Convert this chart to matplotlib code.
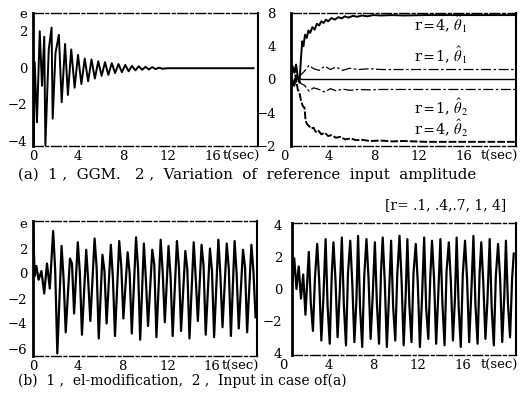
import matplotlib
matplotlib.use('Agg')
import matplotlib.pyplot as plt
from matplotlib.transforms import ScaledTranslation

plt.rcParams['font.family'] = ['DejaVu Serif']
plt.rcParams['mathtext.fontset'] = 'stix'

# (a)-1  GGM error
ggm_t = [0.0, 0.05, 0.15, 0.35, 0.6, 0.8, 1.0, 1.1, 1.4, 1.65,
         1.75, 2.0, 2.3, 2.55, 2.85, 3.1, 3.4, 3.7, 4.0, 4.3,
         4.6, 4.9, 5.2, 5.5, 5.8, 6.1, 6.4, 6.7, 7.0, 7.3,
         7.6, 7.9, 8.2, 8.5, 8.8, 9.1, 9.4, 9.7, 10.0, 10.3,
         10.6, 10.9, 11.2, 11.5, 12.0, 19.6]
ggm_e = [3.2, -4.1, 0.3, -3.0, 2.0, -1.0, 1.7, -4.3, 1.0, 2.2,
         -2.8, 0.8, 1.8, -1.9, 1.3, -1.5, 1.0, -1.1, 0.7, -0.9,
         0.5, -0.75, 0.45, -0.6, 0.35, -0.45, 0.3, -0.4, 0.25, -0.3,
         0.2, -0.25, 0.15, -0.2, 0.1, -0.15, 0.08, -0.12, 0.05, -0.1,
         0.03, -0.08, 0.0, -0.06, -0.03, -0.03]

# (a)-2  parameter estimates
r4_th1_t = [0.0, 0.15, 0.3, 0.45, 0.6, 0.75, 0.9, 1.0, 1.1, 1.25,
            1.4, 1.55, 1.7, 1.9, 2.1, 2.3, 2.5, 2.7, 2.9, 3.1,
            3.3, 3.6, 3.9, 4.2, 4.5, 4.8, 5.1, 5.5, 5.9, 6.3,
            6.8, 7.3, 8.0, 9.0, 10.0, 12.0, 14.0, 16.0, 18.0, 20.0]
r4_th1 = [1.0, 1.6, 0.8, 1.8, 0.3, -0.4, 2.8, 4.6, 4.0, 5.4,
          5.0, 5.9, 5.6, 6.3, 6.0, 6.7, 6.5, 7.0, 6.8, 7.2,
          7.0, 7.4, 7.2, 7.5, 7.35, 7.6, 7.45, 7.65, 7.55, 7.7,
          7.6, 7.75, 7.7, 7.75, 7.7, 7.75, 7.75, 7.75, 7.75, 7.75]
r1_t = [0.0, 0.3, 0.6, 0.9, 1.2, 1.6, 2.0, 2.5, 3.0, 3.5,
        4.0, 4.6, 5.2, 6.0, 7.0, 8.0, 10.0, 13.0, 16.0, 20.0]
r1_th1 = [0.5, 1.2, 0.2, 0.6, 1.0, 1.7, 1.3, 1.1, 1.6, 1.2,
          1.5, 1.1, 1.35, 1.2, 1.3, 1.2, 1.2, 1.2, 1.2, 1.2]
r1_th2 = [-0.3, -0.8, 0.2, -0.5, -0.7, -1.4, -1.0, -1.2, -1.5, -1.1,
          -1.35, -1.15, -1.3, -1.2, -1.25, -1.2, -1.2, -1.2, -1.2, -1.2]
small_t = [0.0, 0.3, 0.6, 1.0, 20.0]
small_th = [0.0, -0.3, 0.2, 0.0, 0.0]
r4_th2_t = [0.0, 0.2, 0.4, 0.6, 0.75, 0.9, 1.05, 1.2, 1.3, 1.45,
            1.6, 1.8, 2.0, 2.2, 2.4, 2.7, 3.0, 3.3, 3.6, 4.0,
            4.4, 4.8, 5.3, 5.8, 6.3, 7.0, 8.0, 9.0, 10.0, 12.0,
            14.0, 16.0, 18.0, 20.0]
r4_th2 = [0.3, -0.8, 0.5, -1.2, -1.6, -2.6, -3.2, -3.4, -5.0, -5.4,
          -5.6, -5.9, -5.8, -6.3, -6.1, -6.6, -6.4, -6.8, -6.7, -7.0,
          -6.9, -7.2, -7.1, -7.3, -7.25, -7.4, -7.35, -7.45, -7.4, -7.5,
          -7.5, -7.5, -7.5, -7.5]

# (b)-1  el-modification error
el_t = [0.0, 0.15, 0.3, 0.5, 0.75, 1.0, 1.25, 1.5,
        1.8, 1.98, 2.17, 2.55, 2.73, 2.92, 3.3, 3.48, 3.67,
        4.0, 4.18, 4.37, 4.75, 4.93, 5.12, 5.5, 5.68, 5.87,
        6.2, 6.38, 6.57, 6.95, 7.13, 7.32, 7.7, 7.88, 8.07,
        8.45, 8.63, 8.82, 9.2, 9.38, 9.57, 9.9, 10.08, 10.27,
        10.65, 10.83, 11.02, 11.4, 11.58, 11.77, 12.1, 12.28, 12.47,
        12.85, 13.03, 13.22, 13.6, 13.78, 13.97, 14.35, 14.53, 14.72,
        15.05, 15.23, 15.42, 15.8, 15.98, 16.17, 16.55, 16.73, 16.92,
        17.3, 17.48, 17.67, 18.0, 18.18, 18.37, 18.75, 18.93, 19.12,
        19.5, 19.68, 19.87]
el_e = [4.0, -0.2, 0.6, -0.5, 0.2, -1.6, 0.8, -1.2,
        3.4, 0.3, -6.4, 2.2, -0.4, -4.7, 1.2, 0.8, -3.2,
        2.5, 0.1, -4.9, 1.9, -0.6, -3.8, 2.8, 0.5, -5.2,
        1.5, 0.2, -4.0, 2.3, -0.3, -5.0, 2.6, 0.6, -3.6,
        1.7, 0.0, -4.8, 2.9, 0.4, -5.3, 2.4, -0.5, -4.2,
        1.9, 0.7, -5.1, 2.7, 0.1, -3.9, 2.2, -0.2, -5.0,
        2.6, 0.5, -4.6, 1.8, 0.3, -5.2, 2.5, -0.4, -3.8,
        2.3, 0.6, -4.9, 2.0, 0.2, -5.1, 2.7, -0.1, -4.3,
        2.4, 0.4, -5.0, 2.6, 0.0, -4.4, 1.9, 0.5, -4.7,
        2.3, 0.2, -3.5]

# (b)-2  input in case of (a)
u_t = [0.0, 0.2, 0.4, 0.6, 0.8, 1.0, 1.2,
       1.5, 1.68, 1.87, 2.05, 2.25, 2.43, 2.62, 2.8,
       3.0, 3.18, 3.37, 3.55, 3.7, 3.88, 4.07, 4.25,
       4.45, 4.63, 4.82, 5.0, 5.2, 5.38, 5.57, 5.75,
       5.9, 6.08, 6.27, 6.45, 6.65, 6.83, 7.02, 7.2,
       7.4, 7.58, 7.77, 7.95, 8.1, 8.28, 8.47, 8.65,
       8.85, 9.03, 9.22, 9.4, 9.6, 9.78, 9.97, 10.15,
       10.3, 10.48, 10.67, 10.85, 11.05, 11.23, 11.42, 11.6,
       11.8, 11.98, 12.17, 12.35, 12.5, 12.68, 12.87, 13.05,
       13.25, 13.43, 13.62, 13.8, 14.0, 14.18, 14.37, 14.55,
       14.7, 14.88, 15.07, 15.25, 15.45, 15.63, 15.82, 16.0,
       16.2, 16.38, 16.57, 16.75, 16.9, 17.08, 17.27, 17.45,
       17.65, 17.83, 18.02, 18.2, 18.4, 18.58, 18.77, 18.95,
       19.1, 19.28, 19.47, 19.65, 19.8]
u_v = [0.0, 1.9, 0.0, 1.4, -0.6, 0.9, -1.6,
       2.3, -0.9, -2.6, 0.7, 2.8, 0.5, -3.2, -0.6,
       3.1, -1.1, -3.4, 0.9, 2.9, 0.6, -3.0, -0.4,
       3.2, -1.0, -3.5, 1.0, 3.0, 0.4, -3.3, -0.7,
       3.3, -1.2, -3.6, 0.8, 3.1, 0.7, -3.1, -0.5,
       2.9, -0.9, -3.4, 1.1, 3.2, 0.5, -3.6, -0.6,
       3.0, -1.1, -3.2, 0.9, 3.3, 0.6, -3.5, -0.4,
       3.1, -1.0, -3.3, 1.0, 2.8, 0.4, -3.6, -0.7,
       3.2, -1.2, -3.1, 0.8, 3.0, 0.7, -3.4, -0.5,
       3.1, -0.9, -3.5, 1.1, 2.9, 0.5, -3.2, -0.6,
       3.2, -1.1, -3.6, 0.9, 3.0, 0.6, -3.3, -0.4,
       3.3, -1.0, -3.4, 1.0, 2.9, 0.4, -3.1, -0.7,
       3.1, -1.2, -3.5, 0.8, 2.8, 0.7, -3.3, -0.5,
       3.0, -0.9, -3.0, 0.6, 2.2]

x_ticks = [0, 4, 8, 12, 16, 18.5]
x_labels = ['0', '4', '8', '12', '16', 't(sec)']

fig = plt.figure(figsize=(5.31, 4.04), dpi=100)
W, H = 531, 404


def panel(left, top, right, bottom):
    return fig.add_axes([left / W, 1 - bottom / H, (right - left) / W, (bottom - top) / H])


def style(ax, yticks, ylabels, ylim, ypad, xshift=0):
    ax.set_xlim(0, 20)
    ax.set_ylim(*ylim)
    ax.set_xticks(x_ticks)
    ax.set_xticklabels(x_labels)
    ax.set_yticks(yticks)
    ax.set_yticklabels(ylabels)
    ax.tick_params(length=0, labelsize=9.5)
    ax.tick_params(axis='x', pad=3)
    ax.tick_params(axis='y', pad=ypad)
    ax.spines['left'].set_linewidth(2.0)
    ax.spines['right'].set_linewidth(1.5)
    for s in ('top', 'bottom'):
        ax.spines[s].set_linewidth(1.0)
        ax.spines[s].set_linestyle((0, (7, 2, 2, 2)))
    if xshift:
        off = ScaledTranslation(xshift / 72, 0, fig.dpi_scale_trans)
        for lab in ax.get_xticklabels()[:-1]:
            lab.set_transform(lab.get_transform() + off)


ax1 = panel(33, 13, 258, 146)
ax1.plot(ggm_t, ggm_e, color='black', lw=1.4)
style(ax1, [-4, -2, 0, 2, 3.0], ['−4', '−2', '0', '2', 'e'], (-4.3, 3.0), 4)

ax2 = panel(291, 13, 516, 146)
ax2.plot(r4_th1_t, r4_th1, color='black', lw=1.4)
ax2.plot(r1_t, r1_th1, color='black', lw=0.9, ls=(0, (8, 2, 2, 2)))
ax2.plot(small_t, small_th, color='black', lw=1.0)
ax2.plot(r1_t, r1_th2, color='black', lw=0.9, ls=(0, (8, 2, 2, 2)))
ax2.plot(r4_th2_t, r4_th2, color='black', lw=1.4, ls=(0, (4, 1)))
style(ax2, [-8, -4, 0, 4, 8], ['−2', '−4', '0', '4', '8'], (-8, 8), 11, xshift=-5)
lab_kw = dict(fontsize=10.5, ha='left', va='center')
ax2.text(10.9, 6.6, r'r$=$4, $\hat{\theta}_1$', **lab_kw)
ax2.text(10.9, 2.9, r'r$=$1, $\hat{\theta}_1$', **lab_kw)
ax2.text(10.9, -3.4, r'r$=$1, $\hat{\theta}_2$', **lab_kw)
ax2.text(10.9, -5.9, r'r$=$4, $\hat{\theta}_2$', **lab_kw)

ax3 = panel(33, 221, 257, 356)
ax3.plot(el_t, el_e, color='black', lw=1.6)
style(ax3, [-6, -4, -2, 0, 2, 4.0], ['−6', '−4', '−2', '0', '2', 'e'], (-6.6, 4.2), 4)

ax4 = panel(292, 223, 516, 355)
ax4.plot(u_t, u_v, color='black', lw=1.6)
style(ax4, [-4, -2, 0, 2, 4], ['4', '−2', '0', '2', '4'], (-4.1, 4.1), 7, xshift=-6)

fig.text(18 / W, 1 - 175 / H, '(a)  1 ,  GGM.   2 ,  Variation  of  reference  input  amplitude',
         fontsize=10.8, ha='left', va='center')
fig.text(506 / W, 1 - 205 / H, '[r= .1, .4,.7, 1, 4]', fontsize=10, ha='right', va='center')
fig.text(18 / W, 1 - 381 / H, '(b)  1 ,  el-modification,  2 ,  Input in case of(a)',
         fontsize=10, ha='left', va='center')

fig.savefig('out.png', dpi=100)
